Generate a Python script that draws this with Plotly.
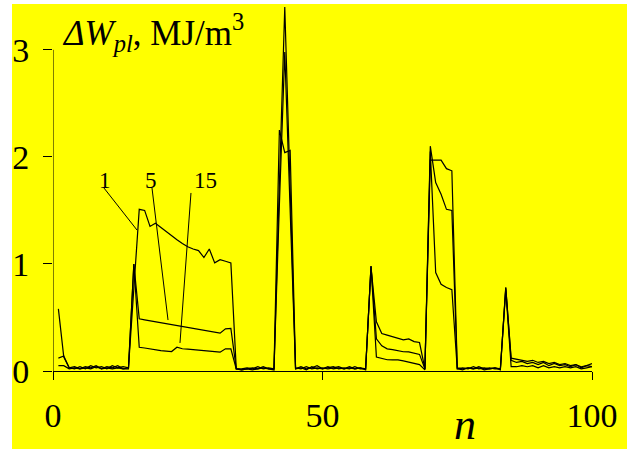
import plotly.graph_objects as go

n = list(range(1, 101))

s1 = ([0.58, 0.13, 0.03, 0.04, 0.02, 0.04, 0.03, 0.05, 0.02, 0.04, 0.03, 0.05, 0.02, 0.03]
      + [0.77, 1.51, 1.50, 1.35, 1.38, 1.34, 1.30, 1.26, 1.225, 1.19, 1.16, 1.14, 1.125, 1.06, 1.14, 1.01, 1.04, 1.025, 1.01, 0.02]
      + [0.01, 0.02, 0.03, 0.02, 0.04, 0.02, 0.02]
      + [2.25, 2.04, 2.06]
      + [0.03, 0.02, 0.04, 0.02, 0.03, 0.02, 0.04, 0.02, 0.03, 0.02, 0.04, 0.02, 0.03, 0.02]
      + [0.97, 0.46, 0.35, 0.335, 0.32, 0.305, 0.29, 0.30, 0.275, 0.266, 0.02]
      + [1.97, 1.97, 1.97, 1.89, 1.87]
      + [0.03, 0.02, 0.03, 0.02, 0.04, 0.02, 0.03, 0.02, 0.02]
      + [0.78]
      + [0.12, 0.11, 0.10, 0.09, 0.10, 0.08, 0.09, 0.07, 0.08, 0.06, 0.07, 0.05, 0.06, 0.04, 0.05, 0.07])

s5 = ([0.12, 0.14, 0.03, 0.02, 0.04, 0.02, 0.05, 0.03, 0.04, 0.02, 0.05, 0.03, 0.04, 0.03]
      + [1.0, 0.487, 0.478, 0.469, 0.46, 0.45, 0.442, 0.434, 0.425, 0.415, 0.406, 0.397, 0.387, 0.378, 0.369, 0.359, 0.353, 0.394, 0.397, 0.02]
      + [0.02, 0.03, 0.02, 0.04, 0.02, 0.03, 0.02]
      + [1.55, 2.98, 1.5]
      + [0.02, 0.04, 0.02, 0.03, 0.05, 0.02, 0.03, 0.04, 0.02, 0.03, 0.02, 0.04, 0.02, 0.02]
      + [0.98, 0.30, 0.235, 0.207, 0.20, 0.19, 0.18, 0.178, 0.165, 0.155, 0.02]
      + [2.1, 1.76, 1.65, 1.51, 1.50]
      + [0.02, 0.03, 0.02, 0.04, 0.02, 0.03, 0.02, 0.03, 0.02]
      + [0.78]
      + [0.10, 0.08, 0.09, 0.07, 0.08, 0.06, 0.08, 0.05, 0.07, 0.05, 0.06, 0.04, 0.06, 0.03, 0.05, 0.04])

s15 = ([0.05, 0.05, 0.02, 0.03, 0.02, 0.03, 0.02, 0.04, 0.02, 0.03, 0.02, 0.03, 0.02, 0.02]
       + [1.0, 0.222, 0.215, 0.205, 0.197, 0.19, 0.186, 0.182, 0.222, 0.208, 0.205, 0.2, 0.195, 0.19, 0.186, 0.18, 0.176, 0.207, 0.207, 0.02]
       + [0.01, 0.02, 0.01, 0.02, 0.03, 0.02, 0.01]
       + [1.75, 3.40, 1.7]
       + [0.02, 0.03, 0.01, 0.04, 0.02, 0.03, 0.02, 0.03, 0.04, 0.02, 0.03, 0.02, 0.03, 0.01]
       + [0.98, 0.13, 0.115, 0.105, 0.104, 0.104, 0.095, 0.085, 0.077, 0.06, 0.01]
       + [2.05, 0.92, 0.81, 0.78, 0.76]
       + [0.02, 0.01, 0.03, 0.02, 0.03, 0.01, 0.02, 0.03, 0.01]
       + [0.76]
       + [0.04, 0.04, 0.05, 0.04, 0.05, 0.03, 0.05, 0.03, 0.04, 0.03, 0.04, 0.03, 0.04, 0.02, 0.03, 0.04])

series = {"1": s1, "5": s5, "15": s15}

x_ticks = [0, 50, 100]
y_ticks = [0, 1, 2, 3]

# curve labels: text, label position (x, y), leader start/end (x, y)
label_text = ["1", "5", "15"]
label_xy = [(9.65, 1.784), (18.18, 1.784), (28.2, 1.784)]
leader_start = [(9.46, 1.709), (18.37, 1.709), (25.6, 1.663)]
leader_end = [(15.58, 1.317), (21.34, 0.476), (23.56, 0.262)]

SERIF = "Liberation Serif"
YELLOW = "#ffff00"

fig = go.Figure()
for name, vals in series.items():
    fig.add_trace(go.Scatter(x=n, y=vals, mode="lines", name=name,
                             line=dict(color="black", width=1.2),
                             showlegend=False))

shapes = []
# y axis line from 0 to 3 only
shapes.append(dict(type="line", xref="x", yref="y", x0=0, x1=0, y0=0, y1=3,
                   line=dict(color="black", width=1)))
for (xs, ys), (xe, ye) in zip(leader_start, leader_end):
    shapes.append(dict(type="line", xref="x", yref="y", x0=xs, y0=ys, x1=xe, y1=ye,
                       line=dict(color="black", width=1)))
# white strips at the left and top edges
shapes.append(dict(type="rect", xref="paper", yref="paper", x0=-0.2, x1=(12 - 53) / 539,
                   y0=-0.3, y1=1.2, fillcolor="white", line=dict(width=0), layer="above"))
shapes.append(dict(type="rect", xref="paper", yref="paper", x0=-0.2, x1=1.2,
                   y0=1.0, y1=1.2, fillcolor="white", line=dict(width=0), layer="above"))

annotations = []
for t, (x, y) in zip(label_text, label_xy):
    annotations.append(dict(x=x, y=y, xref="x", yref="y", text=t, showarrow=False,
                            font=dict(family=SERIF, size=23, color="black"),
                            xanchor="center", yanchor="middle"))
annotations.append(dict(x=(60 - 53) / 539, y=0.921, xref="paper", yref="paper",
                        text="<i>ΔW</i><sub><i>pl</i></sub>, MJ/m<sup>3</sup>",
                        showarrow=False, xanchor="left", yanchor="middle",
                        font=dict(family=SERIF, size=35, color="black")))
annotations.append(dict(x=(465 - 53) / 539, y=-0.145, xref="paper", yref="paper",
                        text="<i>n</i>", showarrow=False, xanchor="center", yanchor="middle",
                        font=dict(family=SERIF, size=44, color="black")))

fig.update_layout(
    width=627, height=449,
    margin=dict(l=53, r=35, t=4, b=78),
    paper_bgcolor=YELLOW, plot_bgcolor=YELLOW,
    shapes=shapes, annotations=annotations,
    xaxis=dict(range=[0, 100], tickvals=x_ticks, ticktext=[str(v) for v in x_ticks],
               ticks="outside", ticklen=8, tickcolor="black", tickwidth=1,
               showline=True, linecolor="black", linewidth=1,
               showgrid=False, zeroline=False, ticklabelstandoff=6,
               tickfont=dict(family=SERIF, size=34, color="black")),
    yaxis=dict(range=[0, 3.428], tickvals=y_ticks, ticktext=[str(v) for v in y_ticks],
               ticks="outside", ticklen=9, tickcolor="black", tickwidth=1,
               showline=False, showgrid=False, zeroline=False, ticklabelstandoff=7,
               tickfont=dict(family=SERIF, size=34, color="black")),
)

fig.write_html("out.html", config={"displayModeBar": False},
               post_script="document.body.style.margin='0';document.body.style.overflow='hidden';")
